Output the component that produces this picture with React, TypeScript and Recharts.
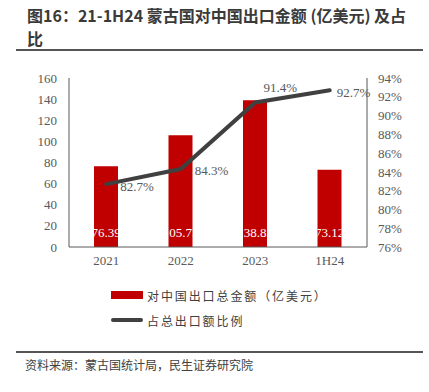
import React from "react"
import { ComposedChart, Bar, Line, XAxis, YAxis, LabelList } from "recharts"

const periods = ["2021", "2022", "2023", "1H24"]
const exportToChina = [76.39, 105.73, 138.83, 73.12]
const chinaShare = [82.7, 84.3, 91.4, 92.7]
const leftTicks = [0, 20, 40, 60, 80, 100, 120, 140, 160]
const rightTicks = [76, 78, 80, 82, 84, 86, 88, 90, 92, 94]

const data = periods.map((p, i) => ({ period: p, amount: exportToChina[i], share: chinaShare[i] }))

// where each % label sits relative to its point
const SHARE_LABEL_POS = [
  { dx: 14, dy: 7, anchor: "start" },
  { dx: 14, dy: 6, anchor: "start" },
  { dx: 25, dy: -10, anchor: "middle" },
  { dx: 7, dy: 7, anchor: "start" },
]

const SERIF = "'Liberation Serif', 'Times New Roman', serif"
const CJK = "'Noto Sans CJK SC', 'Noto Sans', sans-serif"
const TICK = { fontSize: 13, fill: "#595959", fontFamily: SERIF }

const ShareLabel = (props: any) => {
  const { x, y, value, index } = props
  const pos = SHARE_LABEL_POS[index]
  return (
    <text x={x + pos.dx} y={y + pos.dy} textAnchor={pos.anchor} fontSize={13} fontFamily={SERIF} fill="#595959">
      {value.toFixed(1)}%
    </text>
  )
}

const AmountLabel = (props: any) => {
  const { x, y, width, height, value, index } = props
  const id = `bar-clip-${index}`
  return (
    <g>
      <defs>
        <clipPath id={id}>
          <rect x={x} y={y} width={width} height={height} />
        </clipPath>
      </defs>
      <text
        x={x + width / 2}
        y={y + height - 10}
        textAnchor="middle"
        fontSize={13}
        fontFamily={SERIF}
        fill="#ffffff"
        clipPath={`url(#${id})`}
      >
        {value.toFixed(2)}
      </text>
    </g>
  )
}

const LegendBox = () => (
  <div style={{ position: "absolute", left: 111, top: 286, fontFamily: CJK, fontSize: 12, color: "#404040", letterSpacing: 1.9 }}>
    <div style={{ display: "flex", alignItems: "center", height: 18 }}>
      <span style={{ width: 32, height: 8, background: "#C00000", marginRight: 4 }} />
      <span>对中国出口总金额（亿美元）</span>
    </div>
    <div style={{ display: "flex", alignItems: "center", height: 18, marginTop: 7 }}>
      <span style={{ width: 32, height: 4, borderRadius: 2, background: "#404040", marginRight: 4 }} />
      <span>占总出口额比例</span>
    </div>
  </div>
)

export default function App() {
  return (
    <div style={{ position: "absolute", left: 0, top: 0, width: 429, height: 392, background: "#fff", overflow: "hidden" }}>
      <div style={{ position: "absolute", left: 27, top: 4, fontFamily: CJK, fontWeight: 700, fontSize: 16, lineHeight: "23px", color: "#3a3a3a", whiteSpace: "nowrap" }}>
        <div>图16：21-1H24 蒙古国对中国出口金额 (亿美元) 及占</div>
        <div>比</div>
      </div>
      <div style={{ position: "absolute", left: 16, top: 49, width: 407, height: 2, background: "#555" }} />

      <div style={{ position: "absolute", left: 0, top: 0 }}>
        <ComposedChart width={429} height={392} data={data} margin={{ top: 78, right: 12, bottom: 105, left: 9 }}>
          <XAxis
            dataKey="period"
            tick={TICK}
            tickSize={0}
            tickMargin={9}
            axisLine={{ stroke: "#595959", strokeWidth: 1 }}
            height={40}
          />
          <YAxis
            yAxisId="left"
            domain={[0, 160]}
            ticks={leftTicks}
            tick={TICK}
            tickSize={0}
            tickMargin={12}
            axisLine={{ stroke: "#595959", strokeWidth: 1 }}
            width={60}
            interval={0}
          />
          <YAxis
            yAxisId="right"
            orientation="right"
            domain={[76, 94]}
            ticks={rightTicks}
            tick={TICK}
            tickFormatter={(v: number) => `${v}%`}
            tickSize={0}
            tickMargin={11}
            axisLine={{ stroke: "#595959", strokeWidth: 1 }}
            width={50}
            interval={0}
          />
          <Bar yAxisId="left" dataKey="amount" fill="#C00000" barSize={24} isAnimationActive={false}>
            <LabelList dataKey="amount" content={AmountLabel} />
          </Bar>
          <Line
            yAxisId="right"
            dataKey="share"
            type="linear"
            stroke="#404040"
            strokeWidth={4}
            strokeLinecap="round"
            dot={false}
            activeDot={false}
            isAnimationActive={false}
          >
            <LabelList dataKey="share" content={ShareLabel} />
          </Line>
        </ComposedChart>
      </div>

      <LegendBox />

      <div style={{ position: "absolute", left: 16, top: 351, width: 407, height: 2, background: "#555" }} />
      <div style={{ position: "absolute", left: 25, top: 356, fontFamily: CJK, fontSize: 12, color: "#404040" }}>
        资料来源：蒙古国统计局，民生证券研究院
      </div>
    </div>
  )
}
